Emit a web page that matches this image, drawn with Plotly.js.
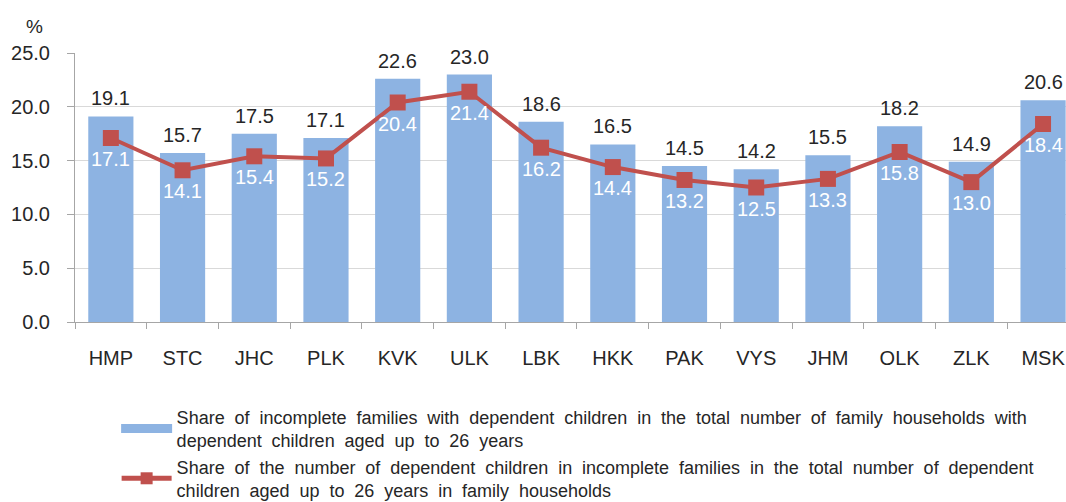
<!DOCTYPE html>
<html>
<head>
<meta charset="utf-8">
<script src="https://cdn.plot.ly/plotly-3.0.1.min.js"></script>
<style>
html,body{margin:0;padding:0;background:#fff;}
#chart{width:1066px;height:502px;}
#chart .legendtext{word-spacing:4.9px;}
#chart .legend .scrollbox{clip-path:none !important;}
#chart .legendpoints path.legendundefined, #chart .legendpoints path.legendbar{d:path("M25.5,4.5H-25.5V-4.5H25.5Z");}
</style>
</head>
<body>
<div id="chart"></div>
<script>
const regions = ["HMP","STC","JHC","PLK","KVK","ULK","LBK","HKK","PAK","VYS","JHM","OLK","ZLK","MSK"];
const shareFamilies = [19.1,15.7,17.5,17.1,22.6,23.0,18.6,16.5,14.5,14.2,15.5,18.2,14.9,20.6];
const shareChildren = [17.1,14.1,15.4,15.2,20.4,21.4,16.2,14.4,13.2,12.5,13.3,15.8,13.0,18.4];
const yTicks = [0,5,10,15,20,25];
const barName = "Share of incomplete families with dependent children in the total number of family households with<br>dependent children aged up to 26 years";
const lineName = "Share of the number of dependent children in incomplete families in the total number of dependent<br>children aged up to 26 years in family households";

const FONT = "Liberation Sans, Arial, sans-serif";
const barTrace = {
  type: "bar", x: regions, y: shareFamilies, name: barName,
  marker: {color: "#8DB3E2", line: {width: 0}},
  hoverinfo: "skip"
};
const lineTrace = {
  type: "scatter", mode: "lines+markers", x: regions, y: shareChildren, name: lineName,
  line: {color: "#C0504D", width: 4},
  marker: {symbol: "square", size: 16, color: "#C0504D"},
  hoverinfo: "skip"
};
const annotations = [];
regions.forEach((r, i) => {
  annotations.push({x: r, y: shareFamilies[i], xref: "x", yref: "y", text: shareFamilies[i].toFixed(1),
    showarrow: false, yanchor: "middle", yshift: 18, font: {family: FONT, size: 20, color: "#262626"}});
  annotations.push({x: r, y: shareChildren[i], xref: "x", yref: "y", text: shareChildren[i].toFixed(1),
    showarrow: false, yanchor: "middle", yshift: -21, font: {family: FONT, size: 20, color: "#ffffff"}});
});
annotations.push({xref: "paper", yref: "paper", x: -0.041, y: 1.1, text: "%", showarrow: false,
  xanchor: "center", yanchor: "middle", font: {family: FONT, size: 19, color: "#262626"}});

const layout = {
  width: 1066, height: 502,
  margin: {l: 75, r: 0, t: 53, b: 180, autoexpand: false},
  paper_bgcolor: "#fff", plot_bgcolor: "#fff",
  font: {family: FONT, color: "#262626"},
  showlegend: true,
  bargap: 0.37,
  xaxis: {
    type: "category", range: [-0.5, 13.32],
    showline: true, linecolor: "#a6a6a6", linewidth: 1,
    ticks: "outside", tickson: "boundaries", ticklen: 6, tickcolor: "#a6a6a6",
    showgrid: false, tickfont: {family: FONT, size: 20, color: "#262626"},
    ticklabelstandoff: 18, fixedrange: true, automargin: false
  },
  yaxis: {
    range: [0, 25], tickvals: yTicks, ticktext: yTicks.map(v => v.toFixed(1)),
    showline: true, linecolor: "#a6a6a6", linewidth: 1,
    ticks: "outside", ticklen: 7, tickcolor: "#a6a6a6",
    showgrid: true, gridcolor: "#d9d9d9", gridwidth: 1, zeroline: false,
    tickfont: {family: FONT, size: 20, color: "#262626"}, ticklabelstandoff: 13, fixedrange: true, automargin: false
  },
  legend: {
    orientation: "v", xref: "container", yref: "container",
    x: 0.1094, y: 0.206, xanchor: "left", yanchor: "top",
    font: {family: FONT, size: 18, color: "#262626"}, itemwidth: 50, itemsizing: "constant",
    bgcolor: "rgba(0,0,0,0)"
  },
  annotations: annotations
};
function fixLegend() {
  document.querySelectorAll("#chart .legendpoints path.legendundefined, #chart .legendpoints path.legendbar")
    .forEach(p => p.setAttribute("d", "M25.5,4.5H-25.5V-4.5H25.5Z"));
}
Plotly.newPlot("chart", [barTrace, lineTrace], layout, {displayModeBar: false, staticPlot: true}).then(() => {
  fixLegend();
  const gd = document.getElementById("chart");
  gd.on("plotly_afterplot", fixLegend);
  setTimeout(fixLegend, 0);
});
</script>
</body>
</html>
